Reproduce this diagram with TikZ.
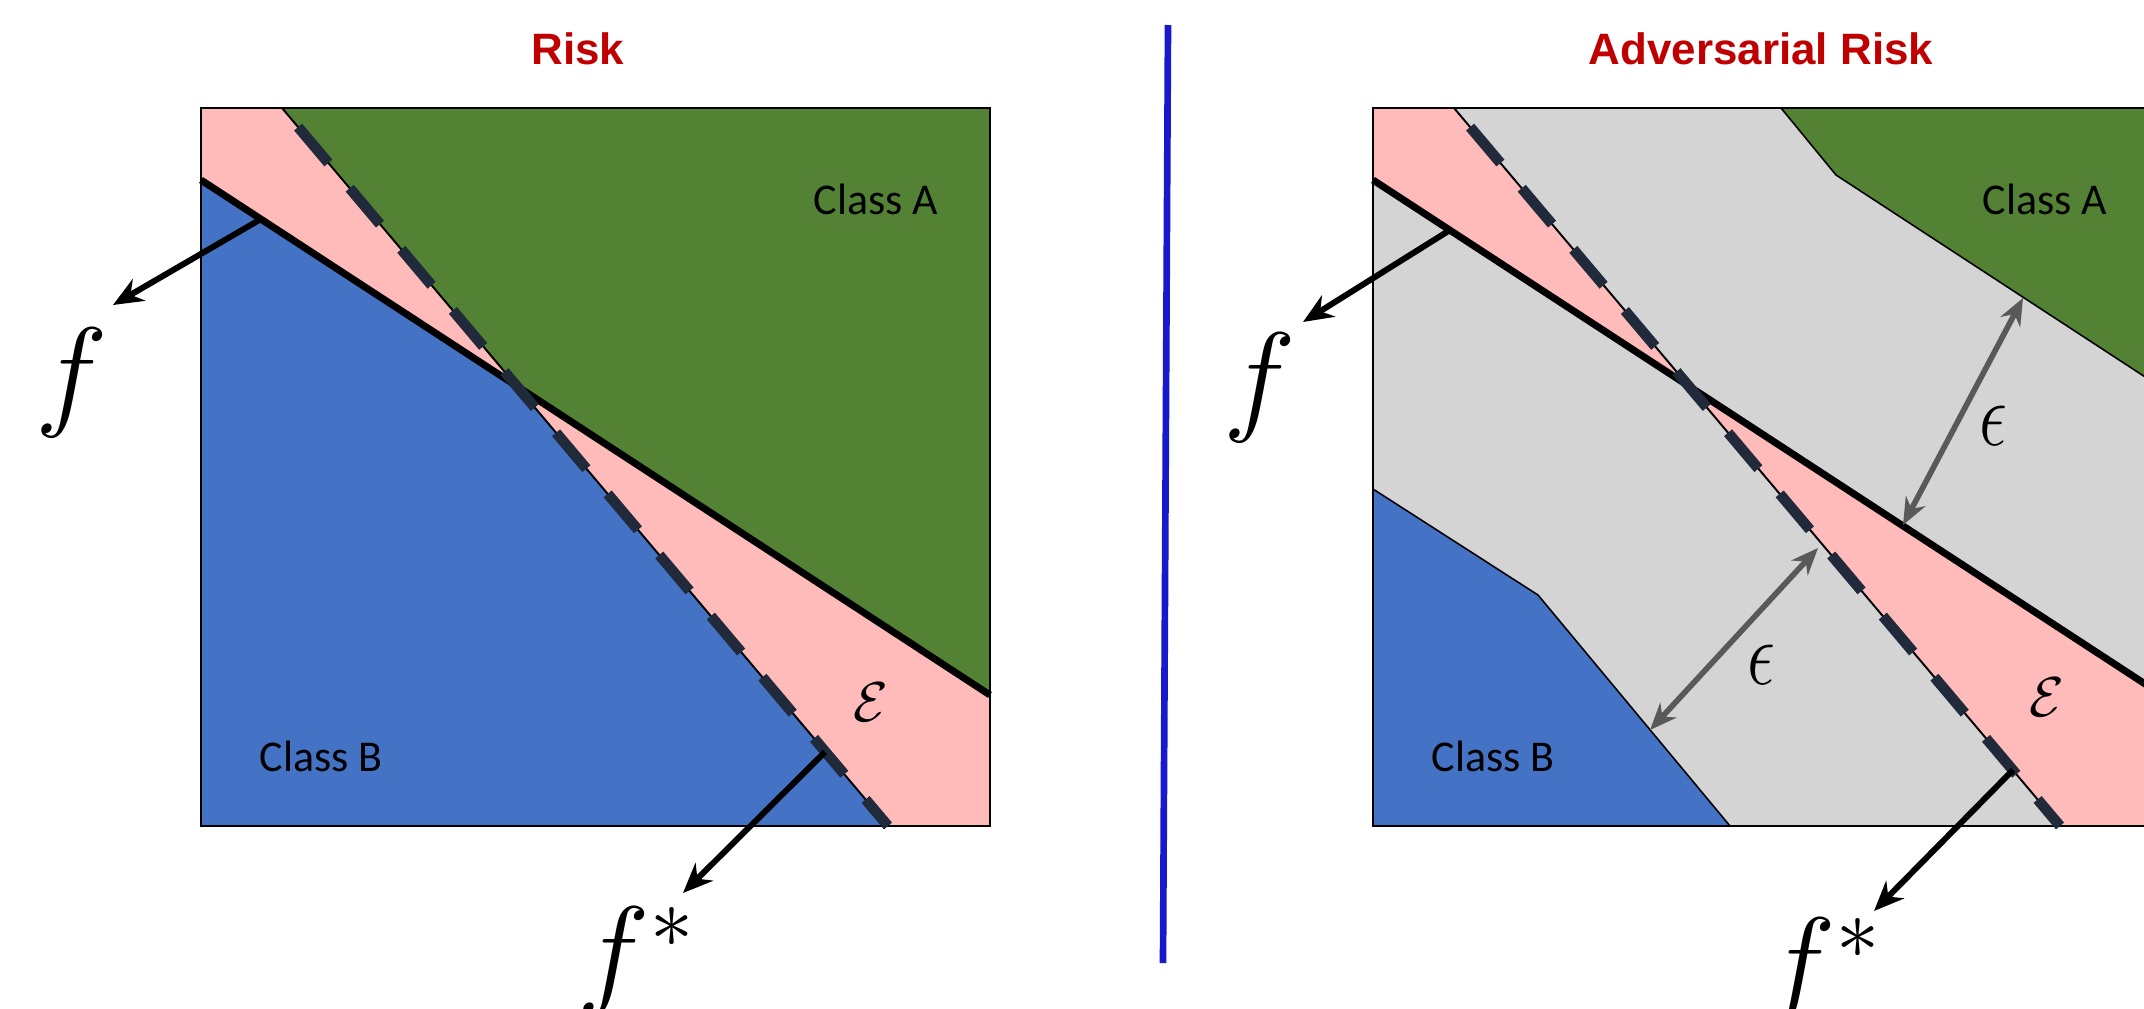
\RequirePackage{fix-cm}
\documentclass[tikz,border=0pt]{standalone}
\usepackage{amsmath}
\usepackage{graphicx}
\usepackage{fontspec}
\newfontfamily\titlefont{Liberation Sans}
\newfontfamily\classfont{Carlito}
\usepackage{xcolor}
\usepackage{tikz}
\usetikzlibrary{arrows.meta,positioning}

\definecolor{classgreen}{RGB}{84,130,53}
\definecolor{classblue}{RGB}{68,114,196}
\definecolor{errpink}{RGB}{255,186,186}
\definecolor{advgray}{RGB}{212,212,212}
\definecolor{riskred}{RGB}{192,0,0}
\definecolor{dashnavy}{RGB}{32,42,58}
\definecolor{epsgray}{RGB}{89,89,89}
\definecolor{sepblue}{RGB}{24,24,204}

\begin{document}
\begin{tikzpicture}[
				x=0.02cm, y=-0.02cm,
				title/.style={font=\titlefont\bfseries\fontsize{25}{30}\selectfont, text=riskred},
				classlabel/.style={font=\classfont\fontsize{25}{30}\selectfont},
				fname/.style={font=\fontsize{70}{84}\selectfont, anchor=base, inner sep=0pt},
				errname/.style={font=\fontsize{32}{38}\selectfont, inner sep=0pt},
				epsname/.style={font=\fontsize{40}{48}\selectfont, inner sep=0pt},
				frame/.style={draw=black, line width=1.1pt},
				edge/.style={draw=black, line width=0.9pt},
				boundary/.style={line width=4pt},
				optthin/.style={line width=1.1pt},
				optdash/.style={line width=6pt, draw=dashnavy, dash pattern=on 0.94cm off 0.66cm, dash phase=1.1cm},
				pointer/.style={-{Stealth[length=0.6cm,width=0.5cm]}, line width=3.4pt},
				margin/.style={{Stealth[length=0.54cm,width=0.44cm]}-{Stealth[length=0.54cm,width=0.44cm]}, line width=3.2pt, draw=epsgray},
				sepline/.style={draw=sepblue, line width=3.8pt}
				]
				\useasboundingbox (0,0) rectangle (2144,1008);
				\clip (0,0) rectangle (2144,1008);
				
				\node[title] (risk) at (578,49) {Risk};
				\node[title] (advrisk) at (1761,49) {Adversarial Risk};
				\coordinate (septop) at (1168,25);
				\coordinate (sepbot) at (1163,963);
				\draw[sepline] (septop) -- (sepbot);
				
				% left panel
				\coordinate (fA) at (201,180);
				\coordinate (fB) at (990,695);
				\coordinate (sA) at (282,108);
				\coordinate (sB) at (888,826);
				\coordinate (cross) at (intersection of fA--fB and sA--sB);
				\fill[errpink] (201,108) rectangle (990,826);
				\fill[classgreen] (sA) -- (990,108) -- (fB) -- (cross) -- cycle;
				\fill[classblue] (fA) -- (cross) -- (sB) -- (201,826) -- cycle;
				\draw[frame] (201,108) rectangle (990,826);
				\draw[boundary] (fA) -- (fB);
				\draw[optthin] (sA) -- (sB);
				\draw[optdash] (sA) -- (sB);
				\node[classlabel] (classA) at (876,199) {Class A};
				\node[classlabel] (classB) at (321,756) {Class B};
				\node[errname] (err) at (871,702) {$\mathcal{E}$};
				\node[fname] (f) at (72,413) {$f$};
				\node[fname] (fstar) at (636,992) {$f^{*}$};
				\coordinate (fon) at (261,219);
				\coordinate (fend) at (113,305);
				\coordinate (son) at (825,752);
				\coordinate (send) at (683,893);
				\draw[pointer] (fon) -- (fend);
				\draw[pointer] (son) -- (send);
				
				% right panel
				\coordinate (rfA) at (1373,180);
				\coordinate (rfB) at (2162,695);
				\coordinate (rsA) at (1454,108);
				\coordinate (rsB) at (2060,826);
				\coordinate (rcross) at (intersection of rfA--rfB and rsA--rsB);
				\fill[advgray] (1373,108) rectangle (2162,826);
				\fill[errpink] (1373,108) -- (rsA) -- (rcross) -- (rfA) -- cycle;
				\fill[errpink] (rcross) -- (rfB) -- (2162,826) -- (rsB) -- cycle;
				\fill[classgreen] (1781,108) -- (1836,175) -- (2162,388) -- (2162,108) -- cycle;
				\fill[classblue] (1373,489) -- (1538,595) -- (1730,826) -- (1373,826) -- cycle;
				\draw[edge] (1781,108) -- (1836,175) -- (2162,388);
				\draw[edge] (1373,489) -- (1538,595) -- (1730,826);
				\draw[frame] (1373,108) rectangle (2162,826);
				\draw[boundary] (rfA) -- (rfB);
				\draw[optthin] (rsA) -- (rsB);
				\draw[optdash] (rsA) -- (rsB);
				\node[classlabel] (rclassA) at (2045,199) {Class A};
				\node[classlabel] (rclassB) at (1493,756) {Class B};
				\node[errname] (rerr) at (2047,697) {$\mathcal{E}$};
				\node[fname] (rf) at (1260,418) {$f$};
				\node[fname] (rfstar) at (1822,1003) {$f^{*}$};
				\coordinate (rfon) at (1450,230);
				\coordinate (rfend) at (1303,322);
				\coordinate (rson) at (2013,770);
				\coordinate (rsend) at (1874,911);
				\draw[pointer] (rfon) -- (rfend);
				\draw[pointer] (rson) -- (rsend);
				\coordinate (upA) at (1903,525);
				\coordinate (upB) at (2023,298);
				\coordinate (lowA) at (1650,730);
				\coordinate (lowB) at (1818,548);
				\draw[margin] (upA) -- (upB);
				\draw[margin] (lowA) -- (lowB);
				\node[epsname] (epsup) at (1993,426) {\scalebox{1}[1.3]{$\epsilon$}};
				\node[epsname] (epslow) at (1761,665) {\scalebox{1}[1.3]{$\epsilon$}};
			\end{tikzpicture}
\end{document}
